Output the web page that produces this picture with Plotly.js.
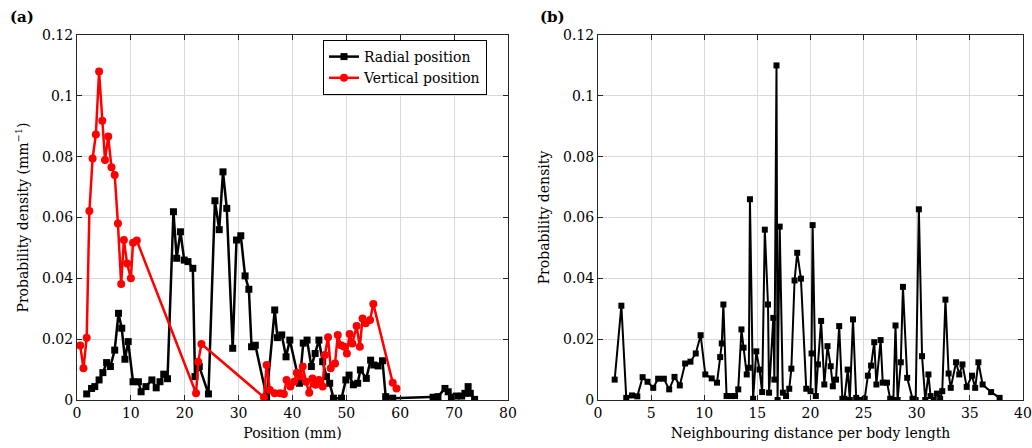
<!DOCTYPE html>
<html>
<head>
<meta charset="utf-8">
<script src="https://cdn.plot.ly/plotly-3.0.1.min.js"></script>
<style>html,body{margin:0;padding:0;background:#fff;}#chart{width:1032px;height:448px;}</style>
</head>
<body>
<div id="chart"></div>
<script>
// Panel (a): radial position
const radialX = [1.8,2.7,3.3,4.1,4.8,5.5,6.2,7.0,7.7,8.3,8.9,9.5,10.4,11.4,11.9,12.8,13.9,14.7,15.4,16.1,16.8,17.9,18.5,19.2,19.9,20.6,21.5,21.9,22.7,24.4,25.6,26.4,27.1,27.8,28.9,29.6,30.4,31.2,31.9,32.4,33.1,35.2,36.7,37.2,38.0,38.8,39.5,41.3,42.0,42.7,43.5,44.2,44.9,45.6,46.3,46.9,47.6,49.1,49.9,50.5,51.3,52.1,52.6,53.7,54.5,55.1,55.9,56.7,57.3,58.6,66.1,67.0,68.3,68.9,69.5,70.4,71.4,72.0,72.6,73.0,73.8];
const radialY = [0.002,0.0038,0.0044,0.0066,0.009,0.0123,0.011,0.0164,0.0285,0.0236,0.0134,0.0192,0.006,0.006,0.0027,0.0044,0.0066,0.004,0.006,0.0085,0.007,0.0619,0.0466,0.0553,0.046,0.0455,0.0433,0.0077,0.011,0.002,0.0655,0.056,0.075,0.063,0.017,0.0526,0.054,0.0408,0.0364,0.0175,0.018,0.001,0.0296,0.0205,0.0214,0.0142,0.0197,0.0055,0.0187,0.0197,0.011,0.0153,0.0197,0.0126,0.0077,0.0055,0.0006,0.0006,0.0066,0.0082,0.005,0.0055,0.0099,0.0071,0.0131,0.0115,0.0112,0.0129,0.0011,0.0006,0.0009,0.0011,0.0038,0.0027,0.0009,0.0013,0.0013,0.0022,0.0044,0.0022,0.0002];
// Panel (a): vertical position
const verticalX = [0.6,1.2,1.8,2.3,2.9,3.5,4.1,4.7,5.2,5.8,6.4,7.0,7.6,8.2,8.7,9.3,10.0,10.4,11.1,22.1,22.5,23.1,34.7,35.2,35.8,36.7,37.7,38.4,38.9,39.6,40.3,40.8,41.4,41.9,42.5,43.1,43.7,44.3,44.9,45.6,46.0,46.6,47.1,47.9,48.4,49.0,49.6,50.1,50.6,51.1,51.9,52.5,53.0,53.6,54.4,55.0,58.6,59.3];
const verticalY = [0.0179,0.0104,0.0205,0.0621,0.0794,0.0873,0.108,0.0918,0.0789,0.0866,0.0765,0.074,0.058,0.0381,0.0526,0.0449,0.04,0.0517,0.0524,0.0022,0.0126,0.0184,0.0009,0.0115,0.0033,0.0022,0.0022,0.002,0.0066,0.0044,0.006,0.009,0.0077,0.011,0.006,0.0024,0.0071,0.005,0.0066,0.0044,0.0148,0.0206,0.0104,0.012,0.0214,0.018,0.0175,0.0153,0.0217,0.0186,0.0243,0.0175,0.0268,0.0252,0.0263,0.0316,0.0057,0.0038];
// Panel (b): neighbouring distance
const neighX = [1.57,2.2,2.66,3.2,3.7,4.2,4.66,5.2,5.66,6.2,6.7,7.2,7.7,8.2,8.7,9.2,9.66,10.1,10.7,11.2,11.5,11.65,11.8,12.1,12.5,12.9,13.2,13.5,13.7,14.0,14.2,14.3,14.6,14.9,15.2,15.45,15.7,16.0,16.1,16.5,16.6,16.8,16.9,17.1,17.4,17.7,18.0,18.2,18.5,18.75,19.1,19.6,20.0,20.1,20.2,20.5,20.7,21.0,21.3,21.6,21.9,22.1,22.4,22.7,23.0,23.2,23.5,23.7,24.0,24.3,24.7,25.1,25.4,25.7,26.0,26.2,26.6,26.8,27.2,27.5,27.8,28.0,28.2,28.5,28.7,29.1,29.6,29.9,30.2,30.5,30.8,31.1,31.3,31.6,31.9,32.2,32.4,32.7,33.0,33.2,33.7,34.0,34.3,34.7,35.2,35.5,35.8,36.2,37.0,37.8];
const neighY = [0.0067,0.031,0.0007,0.0015,0.0012,0.0075,0.006,0.004,0.007,0.007,0.0035,0.0076,0.0048,0.012,0.0126,0.0153,0.0213,0.0084,0.0071,0.0057,0.0141,0.0186,0.0314,0.0013,0.0013,0.0013,0.0035,0.0232,0.0172,0.0084,0.0106,0.066,0.0004,0.016,0.01,0.0026,0.056,0.0314,0.0024,0.027,0.0067,0.11,0,0.057,0.0024,0.0013,0.0037,0.0103,0.0393,0.0484,0.0399,0.0037,0.0029,0.0153,0.0575,0.0013,0.0117,0.026,0.0051,0.0177,0.0111,0.0045,0.0067,0.0243,0.0004,0.0004,0.01,0,0.0265,0.0007,0,0.0004,0.008,0.0113,0.019,0.0051,0.0197,0.0057,0.0057,0.0004,0,0.0245,0,0.0124,0.0372,0.0073,0.0004,0,0.0627,0.0144,0,0.0084,0.0013,0,0.0021,0.0004,0.0029,0.033,0.0087,0.004,0.0124,0.0084,0.0117,0.0043,0.008,0.004,0.0124,0.0051,0.0026,0.0007];

const seriesNames = ['Radial position', 'Vertical position'];
const panelLabels = ['(a)', '(b)'];
const xTitles = ['Position (mm)', 'Neighbouring distance per body length'];
const yTitles = ['Probability density (mm<sup>\u22121</sup>)', 'Probability density'];

const FONT = 'DejaVu Serif, serif';
const frame = '#262626';

const traces = [
  {x: radialX, y: radialY, name: seriesNames[0], type: 'scatter', mode: 'lines+markers',
   line: {color: '#000000', width: 2.5}, marker: {symbol: 'square', size: 7, color: '#000000'},
   xaxis: 'x', yaxis: 'y'},
  {x: verticalX, y: verticalY, name: seriesNames[1], type: 'scatter', mode: 'lines+markers',
   line: {color: '#ff0000', width: 2.5}, marker: {symbol: 'circle', size: 8, color: '#ff0000'},
   xaxis: 'x', yaxis: 'y'},
  {x: neighX, y: neighY, name: 'Neighbouring distance', type: 'scatter', mode: 'lines+markers',
   line: {color: '#000000', width: 2}, marker: {symbol: 'square', size: 6, color: '#000000'},
   xaxis: 'x2', yaxis: 'y2', showlegend: false}
];

function axis(extra) {
  return Object.assign({
    showgrid: true, gridcolor: '#d9d9d9', gridwidth: 1,
    showline: true, linecolor: frame, linewidth: 1, mirror: 'ticks',
    ticks: 'inside', ticklen: 5, tickcolor: frame, zeroline: false,
    tickfont: {family: FONT, size: 14, color: '#000'}, fixedrange: true
  }, extra);
}

const yDom = [1 - 400/448, 1 - 35/448];
const layout = {
  width: 1032, height: 448,
  margin: {l: 0, r: 0, t: 0, b: 0},
  paper_bgcolor: '#fff', plot_bgcolor: '#fff',
  font: {family: FONT, size: 14, color: '#000'},
  showlegend: true,
  legend: {x: 323/1032, y: 1 - 40/448, xanchor: 'left', yanchor: 'top',
           bordercolor: '#000', borderwidth: 1, bgcolor: '#fff',
           font: {family: FONT, size: 14, color: '#000'}, tracegroupgap: 0},
  xaxis: axis({domain: [77/1032, 508/1032], range: [0, 80], dtick: 10, tick0: 0,
               anchor: 'y', title: {text: xTitles[0], font: {family: FONT, size: 14}, standoff: 8}}),
  yaxis: axis({domain: yDom, range: [0, 0.12], dtick: 0.02, tick0: 0,
               anchor: 'x', title: {text: yTitles[0], font: {family: FONT, size: 14}, standoff: 10}}),
  xaxis2: axis({domain: [598/1032, 1023/1032], range: [0, 40], dtick: 5, tick0: 0,
                anchor: 'y2', title: {text: xTitles[1], font: {family: FONT, size: 14}, standoff: 8}}),
  yaxis2: axis({domain: yDom, range: [0, 0.12], dtick: 0.02, tick0: 0,
                anchor: 'x2', title: {text: yTitles[1], font: {family: FONT, size: 14}, standoff: 10}}),
  annotations: [
    {text: '<b>' + panelLabels[0] + '</b>', xref: 'paper', yref: 'paper', x: 8/1032, y: 1 - 6/448,
     xanchor: 'left', yanchor: 'top', showarrow: false, font: {family: FONT, size: 15, color: '#000'}},
    {text: '<b>' + panelLabels[1] + '</b>', xref: 'paper', yref: 'paper', x: 538/1032, y: 1 - 6/448,
     xanchor: 'left', yanchor: 'top', showarrow: false, font: {family: FONT, size: 15, color: '#000'}}
  ]
};

Plotly.newPlot('chart', traces, layout, {displayModeBar: false, staticPlot: true});
</script>
</body>
</html>
